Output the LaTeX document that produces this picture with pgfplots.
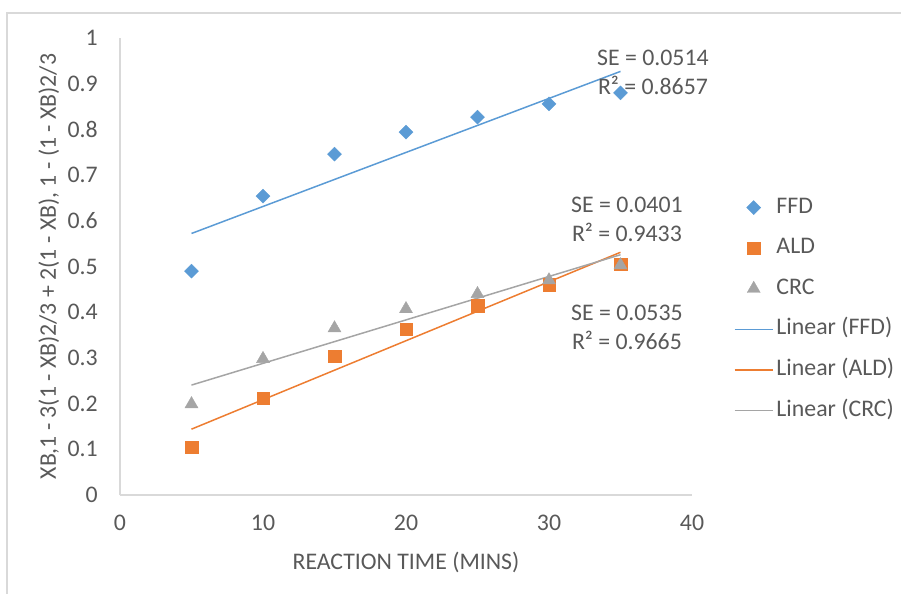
\documentclass[border=0pt]{standalone}
\usepackage{fontspec}
\setmainfont{Carlito}
\usepackage{pgfplots}
\usepackage{pgfplotstable}
\pgfplotsset{compat=1.18}
\definecolor{cffd}{HTML}{5B9BD5}
\definecolor{cald}{HTML}{ED7D31}
\definecolor{ccrc}{HTML}{A5A5A5}
\definecolor{ctext}{HTML}{595959}
\definecolor{cline}{HTML}{D9D9D9}
\pgfplotstableread{
x ffd ald crc
5 0.490 0.105 0.199
10 0.654 0.212 0.298
15 0.746 0.304 0.365
20 0.794 0.363 0.407
25 0.827 0.414 0.440
30 0.856 0.460 0.470
35 0.880 0.505 0.503
}\data
\newcommand{\cf}{\fontsize{23.8bp}{29bp}\selectfont}
\begin{document}
\begin{tikzpicture}
\path[use as bounding box] (-120bp,-99bp) rectangle (781bp,495bp);
\draw[cline, line width=1.2bp] (-113bp,-110bp) -- (-113bp,482bp) -- (800bp,482bp);
\begin{axis}[
  at={(0,0)}, anchor=south west,
  scale only axis, width=572bp, height=457bp,
  xmin=0, xmax=40, ymin=0, ymax=1,
  xtick={0,10,20,30,40},
  ytick={0,0.1,0.2,0.3,0.4,0.5,0.6,0.7,0.8,0.9,1},
  yticklabels={0,0.1,0.2,0.3,0.4,0.5,0.6,0.7,0.8,0.9,1},
  axis x line*=bottom, axis y line*=left,
  axis line style={cline, line width=1.5bp, -},
  major tick length=0pt,
  tick style={draw=none},
  clip=false,
  font=\cf,
  every tick label/.append style={font=\cf, text=ctext, inner sep=0pt},
  /pgf/number format/assume math mode=true,
  xticklabel style={anchor=north, yshift=-20bp},
  yticklabel style={anchor=east, xshift=-22bp},
  every axis x label/.style={at={(axis description cs:0.5,0)}, anchor=base, yshift=-74bp, font=\cf, text=ctext},
  every axis y label/.style={at={(axis description cs:0,0.5)}, xshift=-64bp, rotate=90, anchor=base, font=\cf, text=ctext},
  xlabel={REACTION TIME (MINS)},
  ylabel={XB,1 - 3(1 - XB)2/3 + 2(1 - XB), 1 - (1 - XB)2/3},
  legend image code/.code={\draw[mark repeat=2,mark phase=2,#1] plot coordinates {(0bp,0bp) (19bp,0bp) (38bp,0bp)};},
  legend cell align=left,
  legend style={at={(axis description cs:1.0734,0.652)}, anchor=north west, draw=none, fill=none,
    inner sep=0pt, outer sep=0pt, row sep=19.6bp, font=\cf,
    nodes={inner sep=0pt, text height=16bp, text depth=5bp},
    /tikz/every odd column/.append style={column sep=3bp}},
]
\addplot[only marks, mark=square*, mark size=4.95bp, mark options={rotate=45, fill=cffd, draw=cffd}] table[x=x, y=ffd] {\data};
\addlegendentry{\textcolor{ctext}{FFD}}
\addplot[only marks, mark=square*, mark size=6.2bp, mark options={fill=cald, draw=cald}] table[x=x, y=ald] {\data};
\addlegendentry{\textcolor{ctext}{ALD}}
\addplot[only marks, mark=triangle*, mark size=7.5bp, mark options={fill=ccrc, draw=ccrc}] table[x=x, y=crc] {\data};
\addlegendentry{\textcolor{ctext}{CRC}}
\addplot[no marks, draw=cffd, color=cffd, line width=1.5bp] table[x=x, y={create col/linear regression={y=ffd}}] {\data};
\addlegendentry{\textcolor{ctext}{Linear (FFD)}}
\addplot[no marks, draw=cald, color=cald, line width=1.5bp] table[x=x, y={create col/linear regression={y=ald}}] {\data};
\addlegendentry{\textcolor{ctext}{Linear (ALD)}}
\addplot[no marks, draw=ccrc, color=ccrc, line width=1.5bp] table[x=x, y={create col/linear regression={y=crc}}] {\data};
\addlegendentry{\textcolor{ctext}{Linear (CRC)}}
\node[align=center, font=\cf, text=ctext, inner sep=0pt] at (axis cs:37.27,0.9245) {SE = 0.0514\\R² = 0.8657};
\node[align=center, font=\cf, text=ctext, inner sep=0pt] at (axis cs:35.45,0.603) {SE = 0.0401\\R² = 0.9433};
\node[align=center, font=\cf, text=ctext, inner sep=0pt] at (axis cs:35.45,0.3665) {SE = 0.0535\\R² = 0.9665};
\end{axis}
\end{tikzpicture}
\end{document}
